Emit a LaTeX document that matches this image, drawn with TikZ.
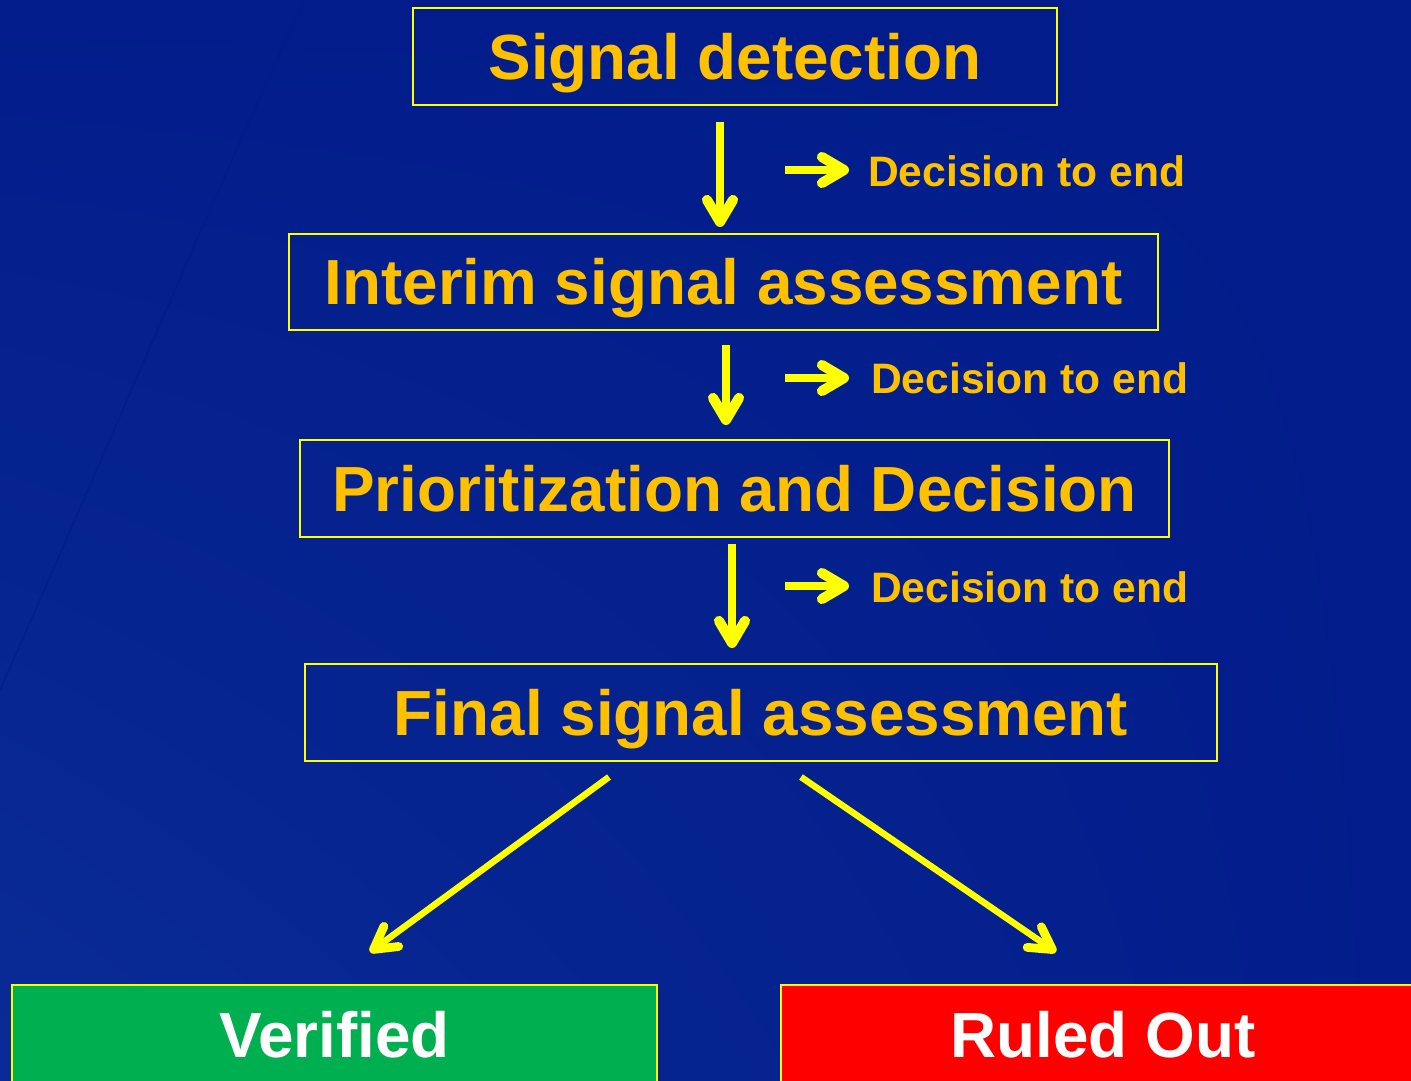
\documentclass[tikz,border=0pt]{standalone}
\usepackage{fontspec}
\setmainfont{Liberation Sans}
\usetikzlibrary{arrows.meta,shadings}
\definecolor{bg}{HTML}{021D8B}
\definecolor{bglight}{HTML}{0A2B95}
\definecolor{bgcurve}{HTML}{011A8A}
\definecolor{boxyellow}{HTML}{FFFF00}
\definecolor{txtorange}{HTML}{FFC000}
\definecolor{arrowyellow}{HTML}{FFFF00}
\definecolor{vgreen}{HTML}{00B050}
\definecolor{rred}{HTML}{FF0000}
\newcommand{\bigfnt}{\fontsize{63.8}{70}\selectfont\bfseries}
\newcommand{\smallfnt}{\fontsize{42.6}{48}\selectfont\bfseries}
\begin{document}
\begin{tikzpicture}[x=1pt,y=-1pt,
  stagebox/.style={draw=boxyellow, line width=2pt, inner sep=0pt, text=txtorange,
    font=\bigfnt, text height=45.5pt, text depth=0pt},
  outbox/.style={draw=boxyellow, line width=2pt, inner sep=0pt, text=white,
    font=\bigfnt, text height=45.5pt, text depth=0pt},
  endlabel/.style={anchor=west, inner sep=0pt, text=txtorange, font=\smallfnt,
    text height=30pt, text depth=0pt},
  arr/.style={draw=arrowyellow, line width=7.5pt,
    -{Straight Barb[length=22pt,width=26pt,line width=0pt 1.35,round]}},
  diag/.style={draw=arrowyellow, line width=6.5pt,
    -{Straight Barb[length=22pt,width=25pt,line width=0pt 1.35,round]}}
]
\useasboundingbox (0,0) rectangle (1411,1080);
\clip (0,0) rectangle (1411,1080);
\shade[lower left=bglight, upper left=bg, lower right=bg, upper right=bg] (0,0) rectangle (1411,1080);
\draw[bgcurve, line width=2pt, opacity=0.5] (305,0) .. controls (220,180) and (120,420) .. (0,690);

% stage boxes
\node[stagebox, minimum width=644pt, minimum height=97pt] (sd) at (735,56.5) {Signal detection};
\node[stagebox, minimum width=869pt, minimum height=96pt] (isa) at (723.5,282) {Interim signal assessment};
\node[stagebox, minimum width=869pt, minimum height=97pt] (pd) at (734.5,488.5) {Prioritization and Decision};
\node[stagebox, minimum width=912pt, minimum height=97pt] (fsa) at (761,712.5) {Final signal assessment};

% outcome boxes
\node[outbox, fill=vgreen, minimum width=645pt, minimum height=100pt] (ver) at (334.5,1035) {Verified};
\node[outbox, fill=rred, minimum width=644pt, minimum height=100pt] (ro) at (1103,1035) {Ruled Out};

% decision labels
\node[endlabel] (d1) at (868,171) {Decision to end};
\node[endlabel] (d2) at (871,378) {Decision to end};
\node[endlabel] (d3) at (871,587) {Decision to end};

% connector end points
\coordinate (a1s) at (720,122);
\coordinate (a1e) at (720,227);
\coordinate (a2s) at (726,345);
\coordinate (a2e) at (726,425);
\coordinate (a3s) at (732,544);
\coordinate (a3e) at (732,648);
\coordinate (r1s) at (785,170);
\coordinate (r1e) at (849,170);
\coordinate (r2s) at (785,378);
\coordinate (r2e) at (849,378);
\coordinate (r3s) at (785,586);
\coordinate (r3e) at (849,586);
\coordinate (ls) at (609,777);
\coordinate (le) at (370,952);
\coordinate (rs) at (801,777);
\coordinate (re) at (1056,952);

\draw[arr] (a1s) -- (a1e);
\draw[arr] (a2s) -- (a2e);
\draw[arr] (a3s) -- (a3e);
\draw[arr] (r1s) -- (r1e);
\draw[arr] (r2s) -- (r2e);
\draw[arr] (r3s) -- (r3e);
\draw[diag] (ls) -- (le);
\draw[diag] (rs) -- (re);
\end{tikzpicture}
\end{document}
